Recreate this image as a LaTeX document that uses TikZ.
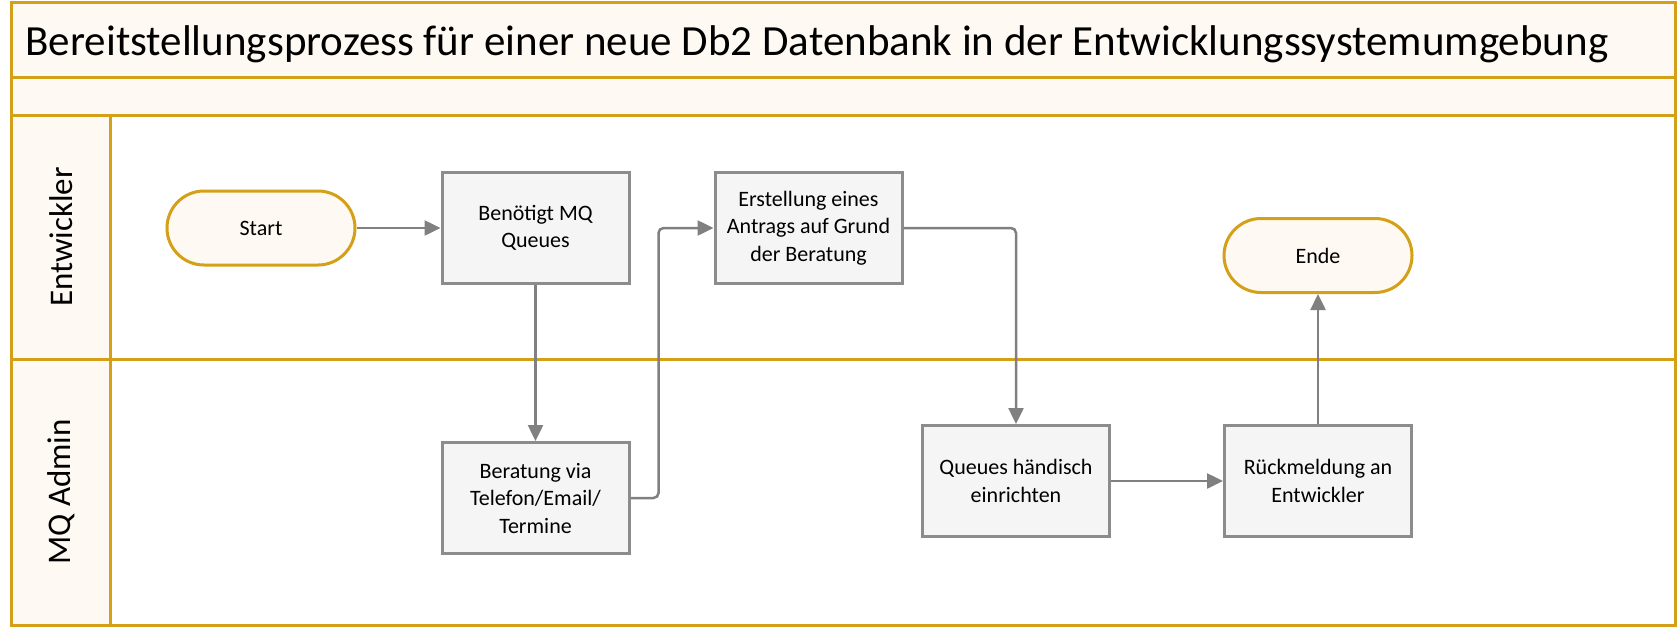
\documentclass[tikz,border=0pt]{standalone}
\usepackage{fontspec}
\setmainfont{Carlito}
\usepackage{tikz}
\usetikzlibrary{arrows.meta,positioning}
\definecolor{laneGold}{RGB}{212,160,23}
\definecolor{laneCream}{RGB}{254,249,242}
\definecolor{boxGray}{RGB}{140,140,140}
\definecolor{boxFill}{RGB}{245,245,245}
\definecolor{flowGray}{RGB}{128,128,128}

\begin{document}
\begin{tikzpicture}[
    x=1pt, y=-1pt,
    node distance=84pt and 84pt,
    task/.style={rectangle, draw=boxGray, fill=boxFill, line width=3pt,
                minimum width=187pt, minimum height=111pt,
                align=center, font=\fontsize{22}{27.5}\selectfont},
    term/.style={rectangle, rounded corners=37pt, draw=laneGold, fill=laneCream,
                line width=3pt, minimum width=188pt, minimum height=74pt,
                font=\fontsize{22}{27.5}\selectfont},
    lanelabel/.style={rotate=90, font=\fontsize{33}{40}\selectfont},
    lane/.style={draw=laneGold, line width=3pt},
    flow/.style={draw=flowGray, line width=2.5pt, rounded corners=5pt,
                -{Triangle[length=16pt,width=15pt]}}
]
\useasboundingbox (0,0) rectangle (1679,627);
\fill[laneCream] (11,2) rectangle (1675,115);
\fill[laneCream] (11,115) rectangle (110,625);
\draw[lane] (11,77) -- (1675,77);
\draw[lane] (11,115) -- (1675,115);
\draw[lane] (11,359) -- (1675,359);
\draw[lane] (110,115) -- (110,625);
\draw[lane] (11,2) rectangle (1675,625);

\node[anchor=base west, font=\fontsize{43}{52}\selectfont] (title) at (22,55)
    {Bereitstellungsprozess für einer neue Db2 Datenbank in der Entwicklungssystemumgebung};
\node[lanelabel] (devlane) at (61,237) {Entwickler};
\node[lanelabel] (mqlane) at (61,492) {MQ Admin};

\node[term] (start) at (261,228) {Start};
\node[task, right=84pt of start] (needq) {Benötigt MQ\\Queues};
\node[task, right=83pt of needq] (request) {Erstellung eines\\Antrags auf Grund\\der Beratung};
\node[task, below=156pt of needq] (consult) {Beratung via\\Telefon/Email/\\Termine};
\node[task] (queues) at (1016,481) {Queues händisch\\einrichten};
\node[task, right=112pt of queues] (reply) {Rückmeldung an\\Entwickler};
\node[term, above=130pt of reply] (ende) {Ende};

\draw[flow] (start) -- (needq);
\draw[flow] (needq) -- (consult);
\draw[flow] (consult.east) -- ++(28,0) |- (request.west);
\draw[flow] (request.east) -| (queues.north);
\draw[flow] (queues) -- (reply);
\draw[flow] (reply) -- (ende);
\end{tikzpicture}
\end{document}
